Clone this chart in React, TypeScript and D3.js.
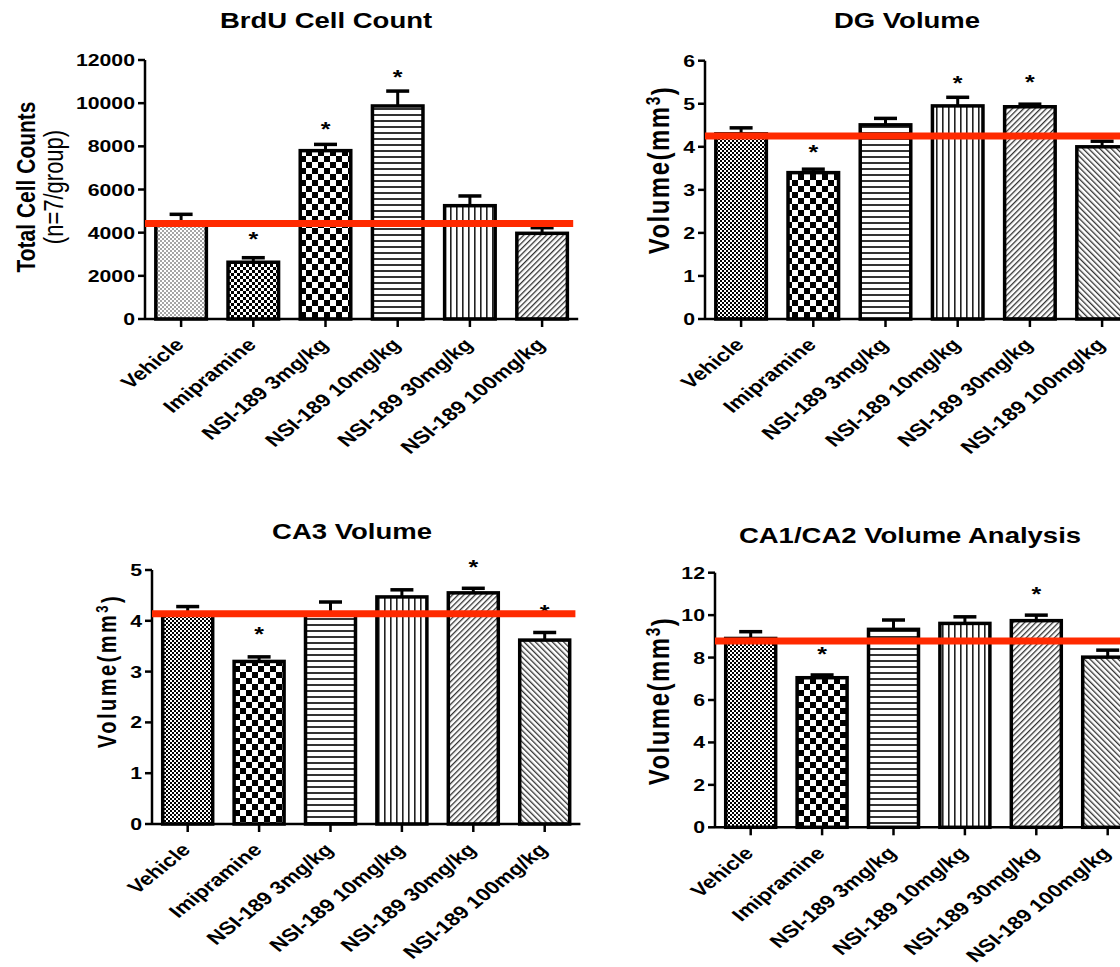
import * as d3 from 'd3';

// groups on the x axis (same in all four panels)
const groups = ['Vehicle', 'Imipramine', 'NSI-189 3mg/kg', 'NSI-189 10mg/kg', 'NSI-189 30mg/kg', 'NSI-189 100mg/kg'];

// BrdU cell count
const brduMean = [4400, 2630, 7800, 9870, 5250, 3970];
const brduSem = [450, 210, 290, 690, 450, 260];
const brduStar = [null, 3900, 9000, 11400, null, null];
const brduTicks = [0, 2000, 4000, 6000, 8000, 10000, 12000];
const brduRef = 4430;

// DG volume
const dgMean = [4.3, 3.4, 4.51, 4.95, 4.93, 4.0];
const dgSem = [0.14, 0.08, 0.15, 0.2, 0.06, 0.13];
const dgStar = [null, 3.97, null, 5.57, 5.59, null];
const dgTicks = [0, 1, 2, 3, 4, 5, 6];
const dgRef = 4.25;

// CA3 volume
const ca3Mean = [4.15, 3.2, 4.12, 4.47, 4.55, 3.62];
const ca3Sem = [0.13, 0.09, 0.25, 0.14, 0.09, 0.15];
const ca3Star = [null, 3.82, null, null, 5.14, 4.25];
const ca3Ticks = [0, 1, 2, 3, 4, 5];
const ca3Ref = 4.14;

// CA1/CA2 volume
const ca1Mean = [8.9, 7.05, 9.33, 9.61, 9.74, 8.02];
const ca1Sem = [0.32, 0.13, 0.44, 0.31, 0.26, 0.33];
const ca1Star = [null, 8.36, null, null, 11.2, null];
const ca1Ticks = [0, 2, 4, 6, 8, 10, 12];
const ca1Ref = 8.78;

const brduFills = ['dots', 'checkMed', 'checkBig', 'hLines', 'vLines', 'diagFwd'];
const volFills = ['checkSmall', 'checkBig', 'hLines', 'vLines', 'diagFwd', 'diagBack'];

const FONT = '"Liberation Sans", Arial, sans-serif';
const SX = 1.25; // the source figure is stretched sideways
const RED = '#ff2a00';

type TxtProps = {
	x: number;
	y: number;
	rot?: number;
	size: number;
	weight?: string;
	anchor?: string;
	spacing?: number;
	children: React.ReactNode;
};

function Txt({ x, y, rot = 0, size, weight = 'bold', anchor = 'middle', spacing = 0, children }: TxtProps) {
	return (
		<text
			transform={`translate(${x},${y}) scale(${SX},1) rotate(${rot})`}
			textAnchor={anchor}
			fontFamily={FONT}
			fontSize={size}
			fontWeight={weight}
			letterSpacing={spacing}
			fill="#000"
		>
			{children}
		</text>
	);
}

type PanelProps = {
	title: string;
	yLabel: React.ReactNode;
	mean: number[];
	sem: number[];
	star: (number | null)[];
	ticks: number[];
	ref: number;
	fills: string[];
	x0: number;
	band: number;
	yTop: number;
	yBase: number;
	titleX: number;
	titleY: number;
};

function Panel(p: PanelProps) {
	const x = d3
		.scaleBand<string>()
		.domain(groups)
		.range([p.x0, p.x0 + 6 * p.band])
		.paddingInner(0.3)
		.paddingOuter(0.15);
	const y = d3
		.scaleLinear()
		.domain([0, p.ticks[p.ticks.length - 1]])
		.range([p.yBase, p.yTop]);
	const bw = x.bandwidth();
	const xEnd = p.x0 + 6 * p.band;

	return (
		<g>
			<Txt x={p.titleX} y={p.titleY} size={22}>
				{p.title}
			</Txt>
			{p.yLabel}

			{/* bars */}
			{groups.map((g, i) => {
				const cx = x(g)! + bw / 2;
				const top = y(p.mean[i]);
				const et = y(p.mean[i] + p.sem[i]);
				return (
					<g key={g}>
						<line x1={cx} x2={cx} y1={top} y2={et} stroke="#000" strokeWidth={3} />
						<line x1={cx - 11.5} x2={cx + 11.5} y1={et} y2={et} stroke="#000" strokeWidth={3.5} />
						<rect
							x={x(g)}
							y={top}
							width={bw}
							height={p.yBase - top}
							fill={`url(#${p.fills[i]})`}
							stroke="#000"
							strokeWidth={3.5}
						/>
						{p.star[i] != null && (
							<Txt x={cx} y={y(p.star[i] as number) + 11} size={20}>
								*
							</Txt>
						)}
					</g>
				);
			})}

			{/* y axis */}
			<line x1={p.x0} x2={p.x0} y1={p.yBase} y2={p.yTop} stroke="#000" strokeWidth={2.5} />
			{p.ticks.map((t) => (
				<g key={t}>
					<line x1={p.x0 - 7} x2={p.x0} y1={y(t)} y2={y(t)} stroke="#000" strokeWidth={2.5} />
					<Txt x={p.x0 - 10} y={y(t) + 6} size={17} anchor="end">
						{t}
					</Txt>
				</g>
			))}

			{/* x axis */}
			<line x1={p.x0} x2={xEnd} y1={p.yBase} y2={p.yBase} stroke="#000" strokeWidth={2.5} />
			{groups.map((g) => {
				const cx = x(g)! + bw / 2;
				return (
					<g key={g}>
						<line x1={cx} x2={cx} y1={p.yBase} y2={p.yBase + 8} stroke="#000" strokeWidth={2.5} />
						<Txt x={cx + 4} y={p.yBase + 27} rot={-45} size={18} anchor="end">
							{g}
						</Txt>
					</g>
				);
			})}

			{/* vehicle reference line */}
			<line x1={p.x0} x2={xEnd - 5} y1={y(p.ref)} y2={y(p.ref)} stroke={RED} strokeWidth={7} />
		</g>
	);
}

function VolLabel({ x, y, size, spacing }: { x: number; y: number; size: number; spacing: number }) {
	return (
		<Txt x={x} y={y} rot={-90} size={size} spacing={spacing}>
			<tspan dy="0.35em">Volume(mm</tspan>
			<tspan dy="-0.45em" fontSize={size * 0.65}>
				3
			</tspan>
			<tspan dy="0.45em">)</tspan>
		</Txt>
	);
}

export default function App() {
	return (
		<svg
			width={1120}
			height={967}
			style={{ position: 'absolute', left: 0, top: 0, background: '#fff' }}
		>
			<defs>
				<pattern id="dots" width={4} height={4} patternUnits="userSpaceOnUse">
					<rect width={4} height={4} fill="#fff" />
					<circle cx={1} cy={1} r={0.8} fill="#333" />
					<circle cx={3} cy={3} r={0.8} fill="#333" />
				</pattern>
				<pattern id="checkSmall" width={4} height={4} patternUnits="userSpaceOnUse">
					<rect width={4} height={4} fill="#fff" />
					<rect width={2} height={2} fill="#000" />
					<rect x={2} y={2} width={2} height={2} fill="#000" />
				</pattern>
				<pattern id="checkMed" width={6} height={6} patternUnits="userSpaceOnUse">
					<rect width={6} height={6} fill="#fff" />
					<rect width={3} height={3} fill="#000" />
					<rect x={3} y={3} width={3} height={3} fill="#000" />
				</pattern>
				<pattern id="checkBig" width={12} height={12} patternUnits="userSpaceOnUse">
					<rect width={12} height={12} fill="#fff" />
					<rect width={6} height={6} fill="#000" />
					<rect x={6} y={6} width={6} height={6} fill="#000" />
				</pattern>
				<pattern id="hLines" width={6} height={6} patternUnits="userSpaceOnUse">
					<rect width={6} height={6} fill="#fff" />
					<rect y={0} width={6} height={2} fill="#333" />
				</pattern>
				<pattern id="vLines" width={6} height={6} patternUnits="userSpaceOnUse">
					<rect width={6} height={6} fill="#fff" />
					<rect x={0} width={1.6} height={6} fill="#222" />
				</pattern>
				<pattern id="diagFwd" width={4} height={4} patternUnits="userSpaceOnUse" patternTransform="rotate(45)">
					<rect width={4} height={4} fill="#fff" />
					<rect width={1.3} height={4} fill="#333" />
				</pattern>
				<pattern id="diagBack" width={4} height={4} patternUnits="userSpaceOnUse" patternTransform="rotate(-45)">
					<rect width={4} height={4} fill="#fff" />
					<rect width={1.3} height={4} fill="#333" />
				</pattern>
			</defs>

			<Panel
				title="BrdU Cell Count"
				yLabel={
					<>
						<Txt x={26} y={187} rot={-90} size={21}>
							<tspan dy="0.35em">Total Cell Counts</tspan>
						</Txt>
						<Txt x={53} y={187} rot={-90} size={22} weight="normal">
							<tspan dy="0.35em">(n=7/group)</tspan>
						</Txt>
					</>
				}
				mean={brduMean}
				sem={brduSem}
				star={brduStar}
				ticks={brduTicks}
				ref={brduRef}
				fills={brduFills}
				x0={145}
				band={72.2}
				yTop={60}
				yBase={319}
				titleX={326}
				titleY={28}
			/>
			<Panel
				title="DG Volume"
				yLabel={<VolLabel x={658} y={170} size={24} spacing={1.5} />}
				mean={dgMean}
				sem={dgSem}
				star={dgStar}
				ticks={dgTicks}
				ref={dgRef}
				fills={volFills}
				x0={705}
				band={72.2}
				yTop={60.7}
				yBase={319}
				titleX={907}
				titleY={28}
			/>
			<Panel
				title="CA3 Volume"
				yLabel={<VolLabel x={107} y={671} size={20} spacing={2.5} />}
				mean={ca3Mean}
				sem={ca3Sem}
				star={ca3Star}
				ticks={ca3Ticks}
				ref={ca3Ref}
				fills={volFills}
				x0={152}
				band={71.4}
				yTop={570}
				yBase={824}
				titleX={352}
				titleY={539}
			/>
			<Panel
				title="CA1/CA2 Volume Analysis"
				yLabel={<VolLabel x={658} y={701} size={24} spacing={1.5} />}
				mean={ca1Mean}
				sem={ca1Sem}
				star={ca1Star}
				ticks={ca1Ticks}
				ref={ca1Ref}
				fills={volFills}
				x0={715}
				band={71.4}
				yTop={572.7}
				yBase={827.3}
				titleX={910}
				titleY={543}
			/>
		</svg>
	);
}
